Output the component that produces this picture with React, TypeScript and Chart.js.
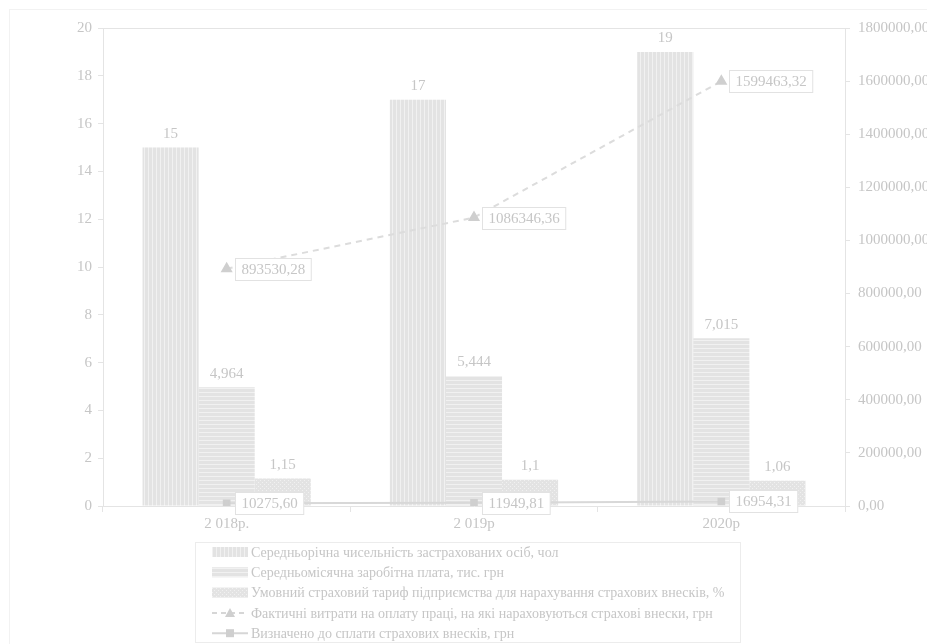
import React, { useEffect, useRef } from "react";
import { Chart, registerables } from "chart.js";

Chart.register(...registerables);

const categories = ["2 018р.", "2 019р", "2020р"];
const insuredPersons = [15, 17, 19];
const avgSalary = [4.964, 5.444, 7.015];
const tariff = [1.15, 1.1, 1.06];
const laborCosts = [893530.28, 1086346.36, 1599463.32];
const contributions = [10275.6, 11949.81, 16954.31];
const seriesNames = [
  "Середньорічна чисельність застрахованих осіб, чол",
  "Середньомісячна заробітна плата, тис. грн",
  "Умовний страховий тариф підприємства для нарахування страхових внесків, %",
  "Фактичні витрати на оплату праці, на які нараховуються страхові внески, грн",
  "Визначено до сплати страхових внесків, грн",
];

const TEXT = "#c6c6c6";
const LINE = "#e4e4e4";
const FONT = "Liberation Serif";

function makePattern(kind: number): CanvasPattern | string {
  const c = document.createElement("canvas");
  c.width = 4;
  c.height = 4;
  const g = c.getContext("2d");
  if (!g) return "#e4e4e4";
  g.fillStyle = "#e3e3e3";
  g.fillRect(0, 0, 4, 4);
  g.fillStyle = "#f1f1f1";
  if (kind === 0) {
    g.fillRect(0, 0, 1, 4);
  } else if (kind === 1) {
    g.fillRect(0, 0, 4, 1);
  } else {
    g.fillRect(0, 0, 1, 1);
    g.fillRect(2, 2, 1, 1);
  }
  const p = g.createPattern(c, "repeat");
  return p || "#e4e4e4";
}

const fmtComma = (v: number) => String(v).replace(".", ",");
const fmt2 = (v: number) => v.toFixed(2).replace(".", ",");

export default function App() {
  const ref = useRef<HTMLCanvasElement | null>(null);

  useEffect(() => {
    document.body.style.margin = "0";
    const canvas = ref.current;
    if (!canvas) return;
    const patterns = [makePattern(0), makePattern(1), makePattern(2)];

    const decorPlugin = {
      id: "decor",
      beforeDraw(chart: any) {
        const ctx = chart.ctx;
        ctx.save();
        ctx.fillStyle = "#ffffff";
        ctx.fillRect(0, 0, chart.width, chart.height);
        ctx.strokeStyle = "#f2f2f2";
        ctx.lineWidth = 1;
        ctx.strokeRect(9.5, 9.5, chart.width + 20, chart.height + 20);
        ctx.restore();
      },
      afterDatasetsDraw(chart: any) {
        const ctx = chart.ctx;
        const a = chart.chartArea;
        ctx.save();
        ctx.strokeStyle = LINE;
        ctx.lineWidth = 1;
        ctx.beginPath();
        ctx.moveTo(a.left, a.top + 0.5);
        ctx.lineTo(a.right, a.top + 0.5);
        ctx.stroke();
        ctx.font = `15px "${FONT}"`;
        ctx.fillStyle = TEXT;
        ctx.textAlign = "center";
        ctx.textBaseline = "bottom";
        chart.data.datasets.forEach((ds: any, di: number) => {
          const meta = chart.getDatasetMeta(di);
          if (ds.type === "line") return;
          meta.data.forEach((el: any, i: number) => {
            ctx.fillText(fmtComma(ds.data[i]), el.x, el.y - 6);
          });
        });
        chart.data.datasets.forEach((ds: any, di: number) => {
          if (ds.type !== "line") return;
          const meta = chart.getDatasetMeta(di);
          meta.data.forEach((el: any, i: number) => {
            const t = fmt2(ds.data[i]);
            const w = ctx.measureText(t).width + 12;
            const h = 22;
            const x = Math.round(el.x + 8) + 0.5;
            const y = Math.round(el.y - h / 2) + 0.5;
            ctx.fillStyle = "#ffffff";
            ctx.fillRect(x, y, w, h);
            ctx.strokeStyle = "#e2e2e2";
            ctx.strokeRect(x, y, w, h);
            ctx.fillStyle = TEXT;
            ctx.textAlign = "left";
            ctx.textBaseline = "middle";
            ctx.fillText(t, x + 6, y + h / 2 + 1);
          });
        });
        ctx.restore();
      },
      afterDraw(chart: any) {
        const ctx = chart.ctx;
        ctx.save();
        ctx.strokeStyle = "#ececec";
        ctx.lineWidth = 1;
        ctx.strokeRect(195.5, 542.5, 545, 100);
        ctx.font = `14px "${FONT}"`;
        ctx.textBaseline = "middle";
        ctx.textAlign = "left";
        const rowY = (i: number) => 552 + i * 20.3;
        for (let i = 0; i < 5; i++) {
          const y = rowY(i);
          if (i < 3) {
            ctx.fillStyle = patterns[i] as any;
            ctx.fillRect(212, y - 5, 36, 10);
          } else {
            const ds = chart.data.datasets[i];
            ctx.strokeStyle = "#d6d6d6";
            ctx.lineWidth = 2;
            ctx.setLineDash(i === 3 ? [5, 4] : []);
            ctx.beginPath();
            ctx.moveTo(212, y);
            ctx.lineTo(248, y);
            ctx.stroke();
            ctx.setLineDash([]);
            ctx.fillStyle = "#cfcfcf";
            if (ds.pointStyle === "triangle") {
              ctx.beginPath();
              ctx.moveTo(230, y - 5);
              ctx.lineTo(235, y + 4);
              ctx.lineTo(225, y + 4);
              ctx.closePath();
              ctx.fill();
            } else {
              ctx.fillRect(226, y - 4, 8, 8);
            }
          }
          ctx.fillStyle = TEXT;
          ctx.fillText(seriesNames[i], 251, y + 1);
        }
        ctx.restore();
      },
    };

    const tickFont = { family: FONT, size: 15 };

    const chart = new Chart(canvas, {
      type: "bar",
      data: {
        labels: categories,
        datasets: [
          { type: "bar", label: seriesNames[0], data: insuredPersons, backgroundColor: patterns[0] as any, yAxisID: "y", order: 1 },
          { type: "bar", label: seriesNames[1], data: avgSalary, backgroundColor: patterns[1] as any, yAxisID: "y", order: 1 },
          { type: "bar", label: seriesNames[2], data: tariff, backgroundColor: patterns[2] as any, yAxisID: "y", order: 1 },
          {
            type: "line", label: seriesNames[3], data: laborCosts, yAxisID: "y1", order: 0,
            borderColor: "#dcdcdc", borderWidth: 2, borderDash: [6, 5],
            pointStyle: "triangle", pointRadius: 5, pointBackgroundColor: "#cfcfcf", pointBorderColor: "#cfcfcf",
          },
          {
            type: "line", label: seriesNames[4], data: contributions, yAxisID: "y1", order: 0,
            borderColor: "#d8d8d8", borderWidth: 2,
            pointStyle: "rect", pointRadius: 4, pointBackgroundColor: "#cfcfcf", pointBorderColor: "#cfcfcf",
          },
        ] as any,
      },
      options: {
        animation: false,
        responsive: false,
        layout: { padding: { top: 28, bottom: 108, left: 0, right: 0 } },
        datasets: { bar: { barPercentage: 1, categoryPercentage: 0.68 } } as any,
        plugins: { legend: { display: false }, tooltip: { enabled: false } },
        scales: {
          x: {
            grid: { drawOnChartArea: false, drawTicks: true, tickLength: 6, color: LINE },
            border: { color: LINE },
            ticks: { color: TEXT, font: tickFont, padding: 3 },
            afterFit: (s: any) => { s.height = 30; },
          },
          y: {
            position: "left", min: 0, max: 20,
            grid: { drawOnChartArea: false, tickLength: 5, color: LINE },
            border: { color: LINE },
            ticks: { stepSize: 2, color: TEXT, font: tickFont, padding: 6 },
            afterFit: (s: any) => { s.width = 103; },
          },
          y1: {
            position: "right", min: 0, max: 1800000,
            grid: { drawOnChartArea: false, tickLength: 5, color: LINE },
            border: { color: LINE },
            ticks: { stepSize: 200000, color: TEXT, font: tickFont, padding: 8, callback: (v: any) => fmt2(Number(v)) },
            afterFit: (s: any) => { s.width = 82; },
          },
        } as any,
      },
      plugins: [decorPlugin],
    });
    return () => chart.destroy();
  }, []);

  return <canvas ref={ref} width={927} height={644} style={{ display: "block" }} />;
}
